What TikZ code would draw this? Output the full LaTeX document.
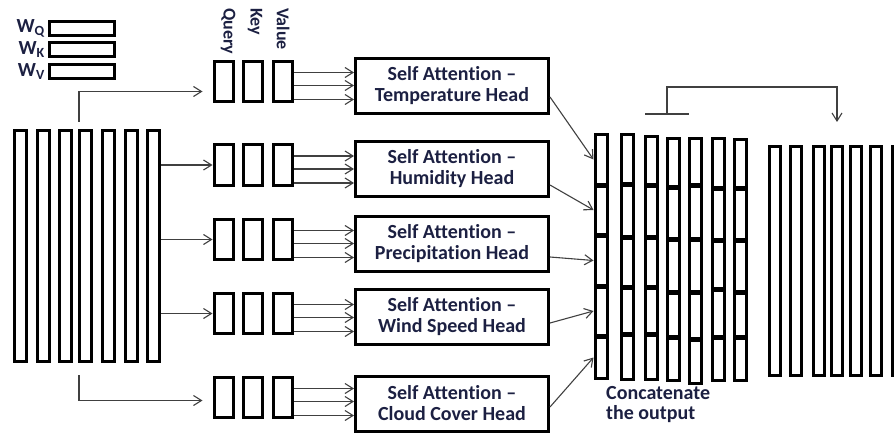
\documentclass[tikz,border=0pt]{standalone}
\usepackage{fontspec}
\setmainfont{Carlito}[Ligatures={TeX,NoCommon}]
\usetikzlibrary{arrows.meta,calc}

\definecolor{inknavy}{RGB}{28,32,66}
\definecolor{wiregray}{RGB}{64,64,64}

\tikzset{
  box/.style={draw,line width=3pt,inner sep=0pt},
  bar/.style={box,minimum width=12,minimum height=231},
  seg/.style={box,minimum width=12},
  qkv/.style={box,minimum width=19,minimum height=40},
  wbox/.style={box,minimum width=65,minimum height=14},
  head/.style={box,minimum width=193,minimum height=55,align=center},
  vlabel/.style={rotate=-90,anchor=west,inner sep=0pt,font=\fontsize{18}{20}\selectfont\bfseries},
  wire/.style={draw=wiregray,line width=1.1pt}
}

\begin{document}
\begin{tikzpicture}[x=1pt,y=-1pt,>={Straight Barb[length=8pt,width=10pt]},
  every node/.style={text=inknavy,font=\fontsize{20}{21}\selectfont\bfseries}]
\useasboundingbox (0,0) rectangle (894,433);
\clip (0,0) rectangle (894,433);

% weight matrices
\node[wbox] (wq) at (82,28.5) {};
\node[wbox] (wk) at (82,49.5) {};
\node[wbox] (wv) at (82,71.5) {};
\node[anchor=east,inner sep=3pt] (lwq) at (wq.west) {W\textsubscript{Q}};
\node[anchor=east,inner sep=3pt] (lwk) at (wk.west) {W\textsubscript{K}};
\node[anchor=east,inner sep=3pt] (lwv) at (wv.west) {W\textsubscript{V}};

% input sequence
\foreach \i/\x in {1/20.5,2/43.5,3/65,4/85.5,5/108,6/131.5,7/153.5}
  \node[bar] (in\i) at (\x,246) {};

% query, key and value per head
\foreach \i/\y in {1/81.5,2/165,3/239.5,4/313.5,5/397.5} {
  \node[qkv] (q\i) at (223.5,\y) {};
  \node[qkv] (k\i) at (253,\y) {};
  \node[qkv] (v\i) at (283,\y) {};
}
\node[vlabel] (lq) at (228,8) {Query};
\node[vlabel] (lk) at (255,8) {Key};
\node[vlabel] (lv) at (283,8) {Value};

% attention heads
\node[head] (h1) at (452,86) {Self Attention --\\Temperature Head};
\node[head] (h2) at (452,169) {Self Attention --\\Humidity Head};
\node[head] (h3) at (452,243.5) {Self Attention --\\Precipitation Head};
\node[head] (h4) at (452,317) {Self Attention --\\Wind Speed Head};
\node[head] (h5) at (452,403.5) {Self Attention --\\Cloud Cover Head};

% concatenated output, five blocks per column
\foreach \i/\x/\ya/\yb/\yc/\yd/\ye/\yf in {
    1/601/134/185/235/286/336/379,
    2/627.5/134/184/237/287/334/380,
    3/651/136/185/237/287/334/380,
    4/673.5/138/187/239/292/337/381,
    5/695/138/185/239/292/339/384,
    6/718.5/138/188/240/289/337/381,
    7/740/139/188/240/292/337/381} {
  \node[seg,minimum height=\yb-\ya-2] (c\i-1) at (\x,{(\ya+\yb)/2}) {};
  \node[seg,minimum height=\yc-\yb-2] (c\i-2) at (\x,{(\yb+\yc)/2}) {};
  \node[seg,minimum height=\yd-\yc-2] (c\i-3) at (\x,{(\yc+\yd)/2}) {};
  \node[seg,minimum height=\ye-\yd-2] (c\i-4) at (\x,{(\yd+\ye)/2}) {};
  \node[seg,minimum height=\yf-\ye-2] (c\i-5) at (\x,{(\ye+\yf)/2}) {};
}
\node[anchor=north west,align=left,inner sep=2pt,font=\fontsize{20}{20}\selectfont\bfseries]
  (cattext) at (604,384) {Concatenate\\the output};

% next layer
\foreach \i/\x in {1/775,2/796,3/818.5,4/837,5/856,6/875.5,7/898}
  \node[bar,minimum width=11,minimum height=229] (out\i) at (\x,261) {};

% input to the heads
\coordinate (fork1) at (79,122);
\coordinate (fork2) at (79,375);
\draw[wire,->,shorten >=10pt] (fork1) |- ($(q1.west)+(0,10)$);
\draw[wire,->,shorten >=10pt] (fork2) |- ($(q5.west)+(0,3)$);
\foreach \i in {2,3,4}
  \draw[wire,->] (in7.east |- q\i.west) -- (q\i.west);

% query, key, value into each head
\foreach \i in {1,...,5}
  \foreach \d in {-9,4,18}
    \draw[wire,->] ($(v\i.east)+(0,\d)$) coordinate (s) -- (s -| h\i.west);

% heads into the concatenation
\foreach \i/\d in {1/11,2/16,3/13.5,4/6,5/3.5}
  \draw[wire,->] ($(h\i.east)+(0,\d)$) -- (c1-\i.west);

% residual link
\coordinate (tee) at (667,114);
\draw[wire] ($(tee)+(-22,0)$) -- ($(tee)+(22,0)$);
\draw[wire,->,shorten >=23pt] (tee) -- ++(0,-27) -| (out4.north);

\end{tikzpicture}
\end{document}
